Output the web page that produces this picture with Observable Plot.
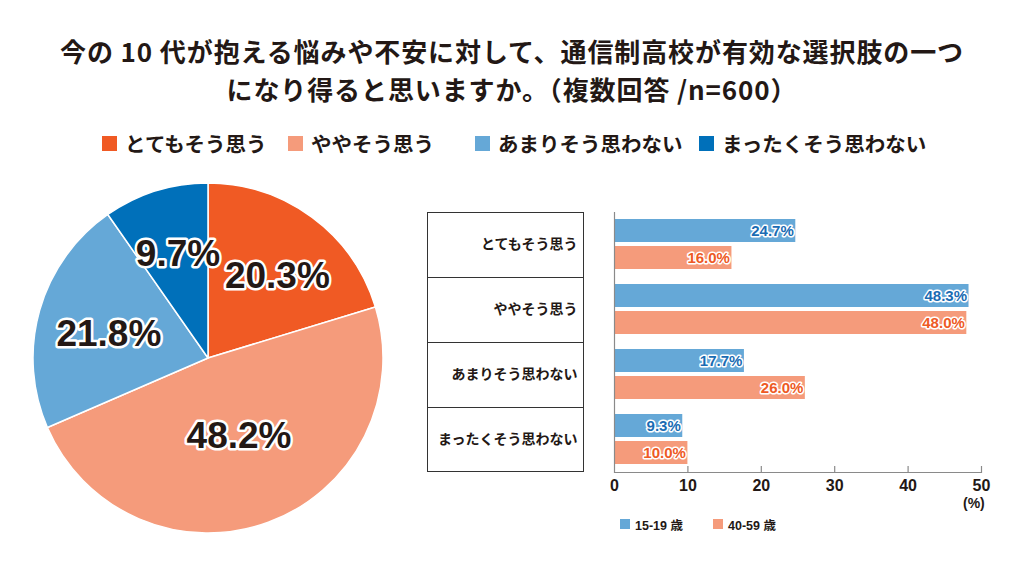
<!DOCTYPE html>
<html lang="ja">
<head>
<meta charset="utf-8">
<script src="https://cdn.jsdelivr.net/npm/d3@7"></script>
<script src="https://cdn.jsdelivr.net/npm/@observablehq/plot@0.6"></script>
<style>
html,body{margin:0;padding:0;background:#fff;}
body{width:1024px;height:563px;position:relative;overflow:hidden;font-family:"Noto Sans CJK JP","Noto Sans",sans-serif;color:#231815;}
#title{position:absolute;left:0;top:37px;width:1024px;text-align:center;font-size:26px;font-weight:bold;letter-spacing:0.9px;}
#title div{height:28px;line-height:28px;margin-bottom:10px;}
.lg{position:absolute;display:flex;align-items:center;font-weight:bold;white-space:nowrap;}
.lg .sw{display:inline-block;}
#legend .lg{top:131px;height:24px;font-size:20.5px;}
#legend .sw{width:15px;height:15px;margin-right:8px;}
#legend2 .lg{top:514px;height:20px;font-size:12.5px;font-family:"Liberation Sans","Noto Sans CJK JP",sans-serif;}
#legend2 .sw{width:10px;height:10px;margin-right:5px;}
#pie{position:absolute;left:21px;top:171px;}
#bars{position:absolute;left:420px;top:202px;}
#box{position:absolute;left:427px;top:212px;width:157px;height:260px;box-sizing:border-box;border:1.5px solid #333;}
#box div{box-sizing:border-box;height:65px;border-bottom:1.5px solid #333;}
#box div:last-child{border-bottom:none;}
#unit{position:absolute;left:963px;top:495px;font-size:14px;font-weight:bold;font-family:"Liberation Sans",sans-serif;}
#bars svg g[aria-label="x-axis tick label"] text{font-weight:bold;}
#bars svg g[aria-label="fy-axis tick label"] text{font-weight:bold;}
</style>
</head>
<body>
<div id="title"></div>
<div id="legend"></div>
<div id="pie"></div>
<div id="box"></div>
<div id="bars"></div>
<div id="unit">(%)</div>
<div id="legend2"></div>
<script>
// ---- data ----
const titleLines = ["今の 10 代が抱える悩みや不安に対して、通信制高校が有効な選択肢の一つ", "になり得ると思いますか。（複数回答 /n=600）"];
const categories = ["とてもそう思う", "ややそう思う", "あまりそう思わない", "まったくそう思わない"];
const pieValues = [20.3, 48.2, 21.8, 9.7];
const pieColors = ["#F05A24", "#F59B7B", "#65A8D7", "#0070BA"];
const ageGroups = ["15-19 歳", "40-59 歳"];
const teenValues = [24.7, 48.3, 17.7, 9.3];
const adultValues = [16.0, 48.0, 26.0, 10.0];
const barColors = ["#65A8D7", "#F59B7B"];
const barTextColors = ["#1A6CB3", "#EE5A24"];
const xTicks = [0, 10, 20, 30, 40, 50];

// ---- title ----
const title = document.getElementById("title");
titleLines.forEach(t => { const d = document.createElement("div"); d.textContent = t; title.appendChild(d); });

// ---- top legend ----
const legendLeft = [102, 288, 475, 699];
const legend = document.getElementById("legend");
categories.forEach((c, i) => {
  const it = document.createElement("div");
  it.className = "lg";
  it.style.left = legendLeft[i] + "px";
  it.innerHTML = `<span class="sw" style="background:${pieColors[i]}"></span><span>${c}</span>`;
  legend.appendChild(it);
});

// ---- pie ----
const H = 187, R = 175;
const pieData = categories.map((c, i) => ({category: c, value: pieValues[i]}));
const arcs = d3.pie().value(d => d.value).sort(null)(pieData);
// label at the area centroid of each sector
const labelData = arcs.map(a => {
  const theta = a.endAngle - a.startAngle, mid = (a.startAngle + a.endAngle) / 2;
  const rc = 2 * R * Math.sin(theta / 2) / (1.5 * theta);
  return {x: rc * Math.sin(mid), y: -rc * Math.cos(mid), text: a.data.value.toFixed(1) + "%"};
});
const fallbackColor = d3.scaleOrdinal(categories, pieColors);

const piePlot = Plot.plot({
  width: 2 * H, height: 2 * H, margin: 0,
  x: {domain: [-H, H], range: [0, 2 * H], axis: null},
  y: {domain: [-H, H], range: [0, 2 * H], axis: null},
  color: {domain: categories, range: pieColors},
  marks: [
    (index, scales) => {
      const color = scales.color || fallbackColor;
      const cx = scales.x(0), cy = scales.y(0), r = scales.x(R) - scales.x(0);
      const g = d3.create("svg:g").attr("transform", `translate(${cx},${cy})`);
      g.selectAll("path").data(arcs).join("path")
        .attr("d", d3.arc().innerRadius(0).outerRadius(r))
        .attr("fill", d => color(d.data.category))
        .attr("stroke", "white").attr("stroke-width", 1.5).attr("stroke-linejoin", "round");
      return g.node();
    },
    Plot.text(labelData, {x: "x", y: "y", text: "text", fontSize: 37, fontWeight: "bold", dx: 4, dy: 5,
      fontFamily: "Liberation Sans, Arial, sans-serif", fill: "#231815", stroke: "white", strokeWidth: 5, paintOrder: "stroke"})
  ]
});
document.getElementById("pie").appendChild(piePlot);

// ---- label box ----
const box = document.getElementById("box");
categories.forEach(() => box.appendChild(document.createElement("div")));

// ---- bars ----
const barData = categories.flatMap((c, i) => [
  {category: c, group: ageGroups[0], value: teenValues[i]},
  {category: c, group: ageGroups[1], value: adultValues[i]}
]);
const lastCat = categories[categories.length - 1];
const barPlot = Plot.plot({
  width: 604, height: 300, marginLeft: 194, marginRight: 43, marginTop: 10, marginBottom: 30,
  style: {fontFamily: "Liberation Sans, 'Noto Sans CJK JP', sans-serif", color: "#231815", overflow: "visible", background: "transparent"},
  x: {domain: [xTicks[0], xTicks[xTicks.length - 1]]},
  y: {domain: ageGroups, axis: null, paddingInner: 0.14, paddingOuter: 0.24},
  fy: {domain: categories, padding: 0},
  color: {domain: ageGroups, range: barColors},
  marks: [
    Plot.barX(barData, {x: "value", y: "group", fy: "category", fill: "group"}),
    Plot.ruleX([0], {stroke: "#8a8a8a", strokeWidth: 1.2}),
    Plot.frame({anchor: "bottom", facetAnchor: "bottom", stroke: "#8a8a8a", strokeWidth: 1.2}),
    Plot.tickX(xTicks.slice(1), {x: d => d, fy: () => lastCat, stroke: "#8a8a8a", strokeWidth: 1.2, insetTop: 59}),
    ...ageGroups.map((g, k) => Plot.text(barData.filter(d => d.group === g), {
      x: "value", y: "group", fy: "category", text: d => d.value.toFixed(1) + "%",
      textAnchor: "end", dx: -2, fill: barTextColors[k], stroke: "white", strokeWidth: 3, paintOrder: "stroke",
      fontSize: 15, fontWeight: "bold", fontFamily: "Liberation Sans, Arial, sans-serif"
    })),
    Plot.axisX({ticks: xTicks, tickSize: 0, tickPadding: 7, fontSize: 16, label: null, tickFormat: d => String(d)}),
    Plot.axisFy({anchor: "left", tickSize: 0, tickPadding: 37, label: null, fontSize: 14, fontFamily: "'Noto Sans CJK JP', sans-serif"})
  ]
});
document.getElementById("bars").appendChild(barPlot);

// ---- bottom legend ----
const legend2Left = [620, 713];
const legend2 = document.getElementById("legend2");
ageGroups.forEach((g, i) => {
  const it = document.createElement("div");
  it.className = "lg";
  it.style.left = legend2Left[i] + "px";
  it.innerHTML = `<span class="sw" style="background:${barColors[i]}"></span><span>${g}</span>`;
  legend2.appendChild(it);
});
</script>
</body>
</html>
